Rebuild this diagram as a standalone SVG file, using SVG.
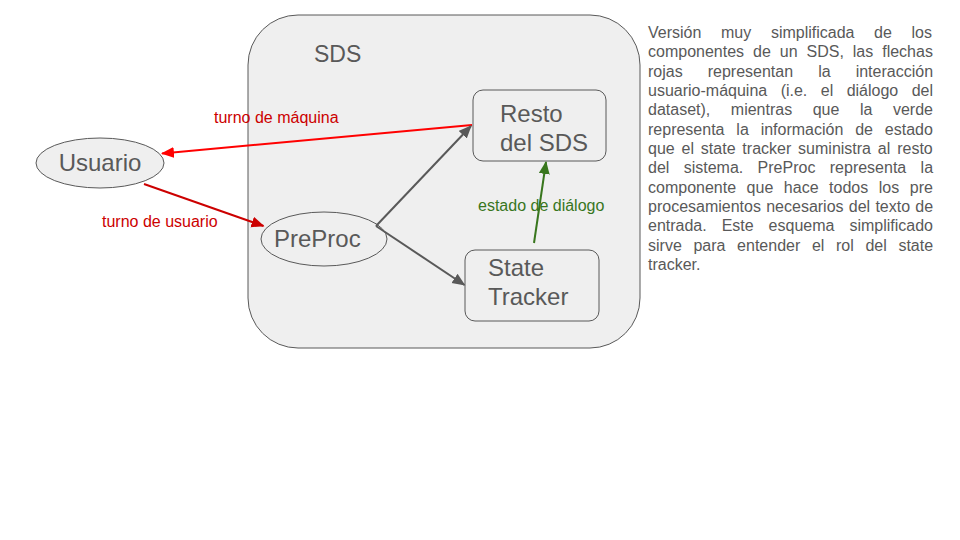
<svg xmlns="http://www.w3.org/2000/svg" width="960" height="540" viewBox="0 0 960 540">
<style>
.node{fill:#efefef;stroke:#595959;stroke-width:1}
.big{font-family:"Liberation Sans",Arial,sans-serif;font-size:24px;fill:#595959}
.lbl{font-family:"Liberation Sans",Arial,sans-serif;font-size:16px}
.para{font-family:"Liberation Sans",Arial,sans-serif;font-size:16px;fill:#595959}
.conn{stroke-width:2;fill:none}
</style>
<defs>
<marker id="aRed" markerUnits="userSpaceOnUse" markerWidth="15" markerHeight="12" refX="12" refY="5.5" orient="auto"><path d="M0,0 L13,5.5 L0,11 z" fill="#ff0000"/></marker>
<marker id="aDark" markerUnits="userSpaceOnUse" markerWidth="15" markerHeight="12" refX="12" refY="5.5" orient="auto"><path d="M0,0 L13,5.5 L0,11 z" fill="#cc0000"/></marker>
<marker id="aGray" markerUnits="userSpaceOnUse" markerWidth="15" markerHeight="12" refX="12" refY="5.5" orient="auto"><path d="M0,0 L13,5.5 L0,11 z" fill="#595959"/></marker>
<marker id="aGreen" markerUnits="userSpaceOnUse" markerWidth="15" markerHeight="12" refX="12" refY="5.5" orient="auto"><path d="M0,0 L13,5.5 L0,11 z" fill="#38761d"/></marker>
</defs>
<rect width="960" height="540" fill="#ffffff"/>
<g id="sds">
<rect class="node" x="248" y="15" width="392" height="333" rx="50" ry="50"/>
<text class="big" x="314" y="62" style="font-size:23px">SDS</text>
</g>
<g id="usuario">
<ellipse class="node" cx="100" cy="163" rx="64" ry="25"/>
<text class="big" x="100" y="171" text-anchor="middle">Usuario</text>
</g>
<g id="preproc">
<ellipse class="node" cx="324" cy="239" rx="63" ry="27"/>
<text class="big" x="274" y="247">PreProc</text>
</g>
<g id="resto">
<rect class="node" x="473" y="90" width="133" height="71" rx="10" ry="10"/>
<text class="big" x="500" y="122">Resto</text>
<text class="big" x="500" y="151">del SDS</text>
</g>
<g id="tracker">
<rect class="node" x="465" y="250" width="134" height="71" rx="10" ry="10"/>
<text class="big" x="488" y="276">State</text>
<text class="big" x="488" y="305">Tracker</text>
</g>
<g id="connectors">
<line class="conn" x1="472" y1="125" x2="162" y2="153.5" stroke="#ff0000" marker-end="url(#aRed)"/>
<line class="conn" x1="144" y1="184" x2="263.5" y2="226" stroke="#cc0000" marker-end="url(#aDark)"/>
<line class="conn" x1="376" y1="226" x2="471" y2="126" stroke="#595959" marker-end="url(#aGray)"/>
<line class="conn" x1="376" y1="226" x2="464.5" y2="285" stroke="#595959" marker-end="url(#aGray)"/>
<line class="conn" x1="534" y1="243" x2="546" y2="162" stroke="#38761d" marker-end="url(#aGreen)"/>
<text class="lbl" x="214" y="123" fill="#cc0000">turno de máquina</text>
<text class="lbl" x="102" y="227" fill="#cc0000">turno de usuario</text>
<text class="lbl" x="478" y="211" fill="#38761d">estado de diálogo</text>
</g>
<g id="descripcion">
<text class="para" x="648" y="38" word-spacing="15.2">Versión muy simplificada de los</text>
<text class="para" x="648" y="57.3" word-spacing="4.5">componentes de un SDS, las flechas</text>
<text class="para" x="648" y="76.7" word-spacing="20.6">rojas representan la interacción</text>
<text class="para" x="648" y="96" word-spacing="9">usuario-máquina (i.e. el diálogo del</text>
<text class="para" x="648" y="115.3" word-spacing="16.1">dataset), mientras que la verde</text>
<text class="para" x="648" y="134.7" word-spacing="7.4">representa la información de estado</text>
<text class="para" x="648" y="154" word-spacing="2.4">que el state tracker suministra al resto</text>
<text class="para" x="648" y="173.3" word-spacing="9.9">del sistema. PreProc representa la</text>
<text class="para" x="648" y="192.7" word-spacing="6.1">componente que hace todos los pre</text>
<text class="para" x="648" y="212" word-spacing="0.8">procesamientos necesarios del texto de</text>
<text class="para" x="648" y="231.3" word-spacing="10.5">entrada. Este esquema simplificado</text>
<text class="para" x="648" y="250.7" word-spacing="7.2">sirve para entender el rol del state</text>
<text class="para" x="648" y="270">tracker.</text>
</g>
</svg>
